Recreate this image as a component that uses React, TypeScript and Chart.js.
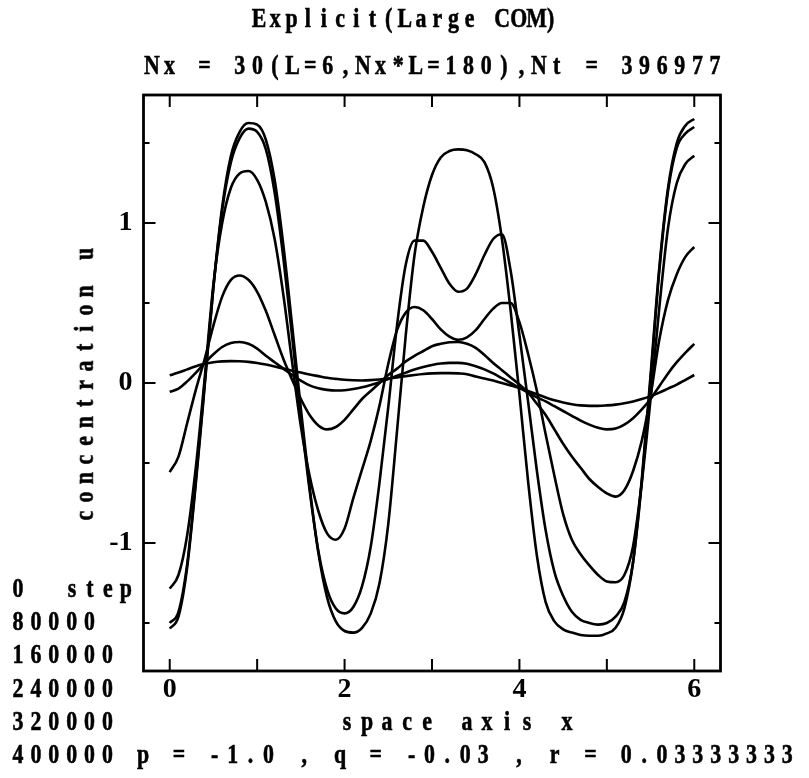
import React, { useEffect, useRef } from 'react';
import { Chart, registerables } from 'chart.js';

Chart.register(...registerables);

// ---- data -------------------------------------------------------------
const xGrid = [
  0.0, 0.1, 0.2, 0.3, 0.4, 0.5, 0.6, 0.7, 0.8, 0.9,
  1.0, 1.1, 1.2, 1.3, 1.4, 1.5, 1.6, 1.7, 1.8, 1.9,
  2.0, 2.1, 2.2, 2.3, 2.4, 2.5, 2.6, 2.7, 2.8, 2.9,
  3.0, 3.1, 3.2, 3.3, 3.4, 3.5, 3.6, 3.7, 3.8, 3.9,
  4.0, 4.1, 4.2, 4.3, 4.4, 4.5, 4.6, 4.7, 4.8, 4.9,
  5.0, 5.1, 5.2, 5.3, 5.4, 5.5, 5.6, 5.7, 5.8, 5.9,
  6.0,
];

const uStep0 = [
  0.048, 0.065, 0.085, 0.105, 0.12, 0.13, 0.135, 0.137, 0.136, 0.132,
  0.125, 0.115, 0.103, 0.09, 0.077, 0.065, 0.053, 0.043, 0.033, 0.026,
  0.02, 0.017, 0.016, 0.018, 0.022, 0.028, 0.035, 0.043, 0.05, 0.056,
  0.06, 0.062, 0.062, 0.06, 0.055, 0.04, 0.028, 0.015, 0.0, -0.015,
  -0.03, -0.05, -0.07, -0.09, -0.108, -0.122, -0.133, -0.14, -0.143, -0.143,
  -0.14, -0.135, -0.127, -0.115, -0.1, -0.082, -0.06, -0.035, -0.01, 0.02,
  0.05,
];

const uStep80000 = [
  -0.055, -0.035, 0.01, 0.065, 0.125, 0.18, 0.225, 0.25, 0.256, 0.245,
  0.215, 0.17, 0.13, 0.09, 0.05, 0.015, -0.015, -0.033, -0.043, -0.047,
  -0.045, -0.038, -0.027, -0.012, 0.005, 0.025, 0.045, 0.065, 0.085, 0.1,
  0.113, 0.122, 0.126, 0.126, 0.12, 0.105, 0.085, 0.06, 0.03, 0.0,
  -0.03, -0.06, -0.09, -0.115, -0.145, -0.175, -0.205, -0.235, -0.26, -0.28,
  -0.29, -0.285, -0.26, -0.22, -0.165, -0.1, -0.02, 0.06, 0.13, 0.19,
  0.245,
];

const uStep160000 = [
  -0.557, -0.46, -0.25, -0.04, 0.15, 0.36, 0.54, 0.645, 0.672, 0.645,
  0.57, 0.45, 0.3, 0.15, 0.02, -0.1, -0.2, -0.265, -0.29, -0.275,
  -0.23, -0.165, -0.1, -0.05, 0.0, 0.05, 0.09, 0.135, 0.17, 0.2,
  0.23, 0.245, 0.255, 0.256, 0.245, 0.22, 0.175, 0.125, 0.08, 0.035,
  -0.01, -0.06, -0.13, -0.2, -0.29, -0.38, -0.46, -0.53, -0.6, -0.65,
  -0.69, -0.71, -0.67, -0.55, -0.36, -0.08, 0.27, 0.52, 0.68, 0.79,
  0.85,
];

const uStep240000 = [
  -1.285, -1.2, -0.95, -0.52, 0.03, 0.62, 1.0, 1.22, 1.31, 1.325,
  1.27, 1.13, 0.9, 0.55, 0.13, -0.27, -0.58, -0.8, -0.94, -0.98,
  -0.91, -0.72, -0.54, -0.36, -0.14, 0.12, 0.33, 0.44, 0.475, 0.455,
  0.4, 0.335, 0.29, 0.27, 0.285, 0.33, 0.4, 0.465, 0.5, 0.5,
  0.38, 0.18, -0.05, -0.32, -0.58, -0.82, -0.98, -1.07, -1.14, -1.2,
  -1.24, -1.245, -1.2, -1.02, -0.62, -0.1, 0.47, 0.97, 1.25, 1.37,
  1.42,
];

const uStep320000 = [
  -1.5, -1.43, -1.13, -0.6, 0.0, 0.6, 1.08, 1.38, 1.53, 1.59,
  1.57, 1.46, 1.19, 0.78, 0.29, -0.21, -0.67, -1.05, -1.29, -1.41,
  -1.44, -1.4, -1.27, -1.02, -0.62, -0.15, 0.36, 0.74, 0.89, 0.89,
  0.82, 0.72, 0.62, 0.57, 0.59, 0.68, 0.8, 0.9, 0.93, 0.7,
  0.3, -0.12, -0.55, -0.92, -1.18, -1.33, -1.43, -1.48, -1.5, -1.51,
  -1.5, -1.46, -1.37, -1.12, -0.62, 0.02, 0.7, 1.2, 1.47, 1.56,
  1.6,
];

const uStep400000 = [
  -1.535, -1.46, -1.15, -0.62, -0.02, 0.6, 1.1, 1.42, 1.57, 1.625,
  1.615, 1.52, 1.27, 0.86, 0.36, -0.16, -0.65, -1.06, -1.34, -1.49,
  -1.55, -1.56, -1.53, -1.44, -1.25, -0.88, -0.3, 0.3, 0.8, 1.1,
  1.3, 1.41, 1.45, 1.46, 1.455, 1.43, 1.38, 1.22, 0.9, 0.45,
  -0.07, -0.62, -1.08, -1.37, -1.49, -1.54, -1.56, -1.575, -1.58, -1.58,
  -1.565, -1.53, -1.41, -1.12, -0.6, 0.05, 0.72, 1.22, 1.5, 1.61,
  1.65,
];

const stepLabels = ['0', '80000', '160000', '240000', '320000', '400000'];
const seriesValues = [uStep0, uStep80000, uStep160000, uStep240000, uStep320000, uStep400000];

const xTicks = [0, 1, 2, 3, 4, 5, 6];
const xTickLabels = [0, 2, 4, 6];
const yTicks = [-1.5, -1, -0.5, 0, 0.5, 1, 1.5];
const yTickLabels = [-1, 0, 1];

const titleText = 'Explicit(Large COM)';
const subtitleText = 'Nx = 30(L=6,Nx*L=180),Nt = 396977';
const xAxisTitle = 'space axis x';
const yAxisTitle = 'concentration u';
const legendHeader = '0  step';
const paramText = 'p = -1.0 , q = -0.03 , r = 0.03333333';

// ---- styles -------------------------------------------------------------
const FONT = '"Liberation Serif", "DejaVu Serif", serif';
const FS = 28;
const SX = 0.78;

type TxtProps = { text: string; x: number; y: number; adv: number; vertical?: boolean };

// monospaced typewriter-like text: each character sits in a fixed cell
function Txt({ text, x, y, adv, vertical }: TxtProps) {
  const cell = adv / SX;
  const chars = Array.from(text);
  return (
    <div
      style={{
        position: 'absolute',
        left: x - (adv - 11) / 2,
        top: y - FS / 2,
        height: FS,
        display: 'flex',
        alignItems: 'center',
        fontFamily: FONT,
        fontWeight: 'bold',
        fontSize: FS,
        lineHeight: 1,
        whiteSpace: 'pre',
        color: '#000',
        WebkitTextStroke: '0.6px #000',
        transformOrigin: vertical ? `${(adv - 11) / 2}px 50%` : 'left center',
        transform: vertical ? `rotate(-90deg) scaleX(${SX})` : `scaleX(${SX})`,
      }}
    >
      {chars.map((c, i) => (
        <span key={i} style={{ display: 'inline-block', width: cell, textAlign: 'center' }}>
          {c}
        </span>
      ))}
    </div>
  );
}

const framePlugin = {
  id: 'frameTicks',
  afterDatasetsDraw(chart: any) {
    const { ctx, chartArea: a, scales } = chart;
    const xs = scales.x;
    const ys = scales.y;
    ctx.save();
    ctx.strokeStyle = '#000';
    ctx.lineWidth = 2;
    ctx.beginPath();
    for (const v of xTicks) {
      const px = xs.getPixelForValue(v);
      ctx.moveTo(px, a.bottom);
      ctx.lineTo(px, a.bottom - 12);
      ctx.moveTo(px, a.top);
      ctx.lineTo(px, a.top + 12);
    }
    for (const v of yTicks) {
      const py = ys.getPixelForValue(v);
      const len = yTickLabels.includes(v) ? 12 : 6;
      ctx.moveTo(a.left, py);
      ctx.lineTo(a.left + len, py);
      ctx.moveTo(a.right, py);
      ctx.lineTo(a.right - len, py);
    }
    ctx.stroke();
    ctx.lineWidth = 2.8;
    ctx.strokeRect(a.left, a.top, a.right - a.left, a.bottom - a.top);
    ctx.restore();
  },
};

export default function App() {
  const ref = useRef<HTMLCanvasElement>(null);

  useEffect(() => {
    document.body.style.margin = '0';
    const tickFont = { family: FONT, size: 28, weight: 'bold' as const };
    const chart = new Chart(ref.current!, {
      type: 'line',
      data: {
        datasets: seriesValues.map((vals, k) => ({
          label: stepLabels[k],
          data: xGrid.map((x, i) => ({ x, y: vals[i] })),
          borderColor: '#000',
          borderWidth: 2.6,
          pointRadius: 0,
          fill: false,
          cubicInterpolationMode: 'monotone' as const,
        })),
      },
      options: {
        responsive: false,
        animation: false,
        devicePixelRatio: 1,
        layout: { padding: { top: 95, right: 88.5, left: 0, bottom: 0 } },
        plugins: {
          legend: { display: false },
          tooltip: { enabled: false },
          title: { display: false },
        },
        scales: {
          x: {
            type: 'linear',
            min: -0.3,
            max: 6.3,
            grid: { display: false, drawTicks: false, tickLength: 0 },
            border: { display: false },
            afterBuildTicks: (s: any) => {
              s.ticks = xTicks.map((v) => ({ value: v }));
            },
            afterFit: (s: any) => {
              s.height = 107;
            },
            ticks: {
              autoSkip: false,
              maxRotation: 0,
              padding: 2,
              color: '#000',
              font: tickFont,
              callback: (v: any) => (xTickLabels.includes(Number(v)) ? String(v) : ''),
            },
          },
          y: {
            type: 'linear',
            min: -1.8,
            max: 1.8,
            grid: { display: false, drawTicks: false, tickLength: 0 },
            border: { display: false },
            afterBuildTicks: (s: any) => {
              s.ticks = yTicks.map((v) => ({ value: v }));
            },
            afterFit: (s: any) => {
              s.width = 143.5;
            },
            ticks: {
              autoSkip: false,
              padding: 11,
              color: '#000',
              font: tickFont,
              callback: (v: any) => (yTickLabels.includes(Number(v)) ? String(v) : ''),
            },
          },
        },
      },
      plugins: [framePlugin],
    });
    return () => chart.destroy();
  }, []);

  const legendY0 = 588;
  const legendDy = 33.2;

  return (
    <div
      style={{
        position: 'fixed',
        left: 0,
        top: 0,
        width: 809,
        height: 778,
        background: '#fff',
        overflow: 'hidden',
      }}
    >
      <canvas
        ref={ref}
        width={809}
        height={778}
        style={{ position: 'absolute', left: 0, top: 0, width: 809, height: 778 }}
      />
      <Txt text={titleText} x={254} y={18} adv={16.2} />
      <Txt text={subtitleText} x={146} y={65} adv={17.6} />
      <Txt text={xAxisTitle} x={341} y={721} adv={20} />
      <Txt text={yAxisTitle} x={84} y={522} adv={18.7} vertical />
      <Txt text={legendHeader} x={12} y={legendY0} adv={18} />
      {stepLabels.slice(1).map((s, i) => (
        <Txt
          key={s}
          text={i === stepLabels.length - 2 ? `${s} ${paramText}` : s}
          x={12}
          y={legendY0 + (i + 1) * legendDy}
          adv={17.9}
        />
      ))}
    </div>
  );
}
